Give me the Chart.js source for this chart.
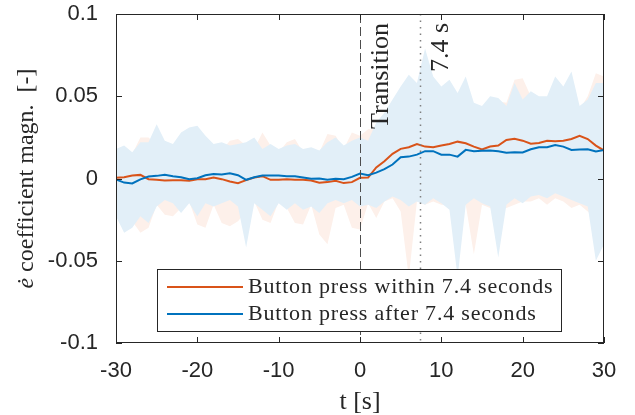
<!DOCTYPE html>
<html>
<head>
<meta charset="utf-8">
<script src="https://cdn.jsdelivr.net/npm/chart.js@4.4.1/dist/chart.umd.min.js"></script>
<style>
  html, body { margin: 0; padding: 0; background: #fff; }
  canvas { display: block; }
</style>
</head>
<body>
<canvas id="coefChart" width="635" height="415"></canvas>
<script>
// time axis (s)
const tSec = [-30,-29,-28,-27,-26,-25,-24,-23,-22,-21,-20,-19,-18,-17,-16,-15,-14,-13,-12,-11,-10,
  -9,-8,-7,-6,-5,-4,-3,-2,-1,0,1,2,3,4,5,6,7,8,9,10,
  11,12,13,14,15,16,17,18,19,20,21,22,23,24,25,26,27,28,29,30];

// mean curves
const orangeMean = [0.0004,0.0008,0.0018,0.0022,-0.0004,-0.0008,-0.0012,-0.0010,-0.0010,-0.0014,-0.0004,
  -0.0004,0.0006,-0.0004,-0.0018,-0.0028,-0.0010,0.0006,0.0014,-0.0008,-0.0008,
  -0.0004,-0.0008,-0.0008,-0.0012,-0.0026,-0.0022,-0.0014,-0.0028,-0.0022,0.0004,
  0.0006,0.0067,0.0105,0.0150,0.0180,0.0190,0.0210,0.0194,0.0190,0.0200,
  0.0210,0.0224,0.0214,0.0194,0.0176,0.0194,0.0200,0.0234,0.0242,0.0230,
  0.0212,0.0216,0.0230,0.0226,0.0230,0.0240,0.0260,0.0240,0.0200,0.0170];
const blueMean = [-0.0005,-0.0025,-0.0030,-0.0005,0.0012,0.0016,0.0022,0.0014,0.0008,-0.0005,0.0002,
  0.0020,0.0028,0.0024,0.0032,0.0020,-0.0008,0.0008,0.0018,0.0018,0.0018,
  0.0014,0.0014,0.0006,-0.0002,0.0000,-0.0008,-0.0002,-0.0004,0.0010,0.0030,
  0.0020,0.0036,0.0057,0.0085,0.0129,0.0133,0.0145,0.0166,0.0166,0.0145,
  0.0145,0.0133,0.0174,0.0166,0.0168,0.0170,0.0166,0.0156,0.0160,0.0158,
  0.0178,0.0190,0.0190,0.0204,0.0194,0.0174,0.0176,0.0178,0.0164,0.0174];

// spread bands
const orangeUpper = [0.014,0.016,0.015,0.025,0.025,0.020,0.023,0.018,0.020,0.022,0.020,
  0.019,0.018,0.017,0.023,0.024,0.020,0.018,0.028,0.020,0.016,
  0.022,0.024,0.016,0.015,0.016,0.027,0.026,0.018,0.028,0.026,
  0.030,0.030,0.036,0.045,0.052,0.048,0.050,0.060,0.055,0.050,
  0.056,0.048,0.055,0.044,0.042,0.048,0.047,0.046,0.060,0.061,
  0.050,0.046,0.048,0.056,0.052,0.058,0.042,0.050,0.064,0.062];
const orangeLower = [-0.020,-0.025,-0.026,-0.033,-0.030,-0.016,-0.022,-0.023,-0.018,-0.014,-0.028,
  -0.030,-0.016,-0.027,-0.029,-0.026,-0.020,-0.014,-0.025,-0.027,-0.014,
  -0.018,-0.027,-0.028,-0.016,-0.034,-0.040,-0.018,-0.016,-0.030,-0.031,
  -0.015,-0.024,-0.014,-0.012,-0.020,-0.060,-0.014,-0.016,-0.014,-0.016,
  -0.016,-0.020,-0.016,-0.046,-0.016,-0.018,-0.020,-0.018,-0.016,-0.014,
  -0.014,-0.012,-0.016,-0.012,-0.014,-0.018,-0.016,-0.020,-0.024,-0.022];
const blueUpper = [0.018,0.020,0.016,0.022,0.022,0.033,0.023,0.021,0.028,0.031,0.032,
  0.026,0.021,0.022,0.020,0.021,0.022,0.025,0.018,0.021,0.018,
  0.020,0.021,0.018,0.019,0.017,0.022,0.025,0.020,0.023,0.025,
  0.023,0.034,0.040,0.048,0.056,0.063,0.058,0.079,0.062,0.056,
  0.060,0.052,0.062,0.046,0.044,0.050,0.049,0.044,0.058,0.048,
  0.053,0.050,0.050,0.062,0.056,0.065,0.044,0.048,0.058,0.058];
const blueLower = [-0.023,-0.033,-0.030,-0.023,-0.027,-0.017,-0.013,-0.015,-0.021,-0.015,-0.023,
  -0.015,-0.017,-0.015,-0.013,-0.017,-0.042,-0.015,-0.019,-0.023,-0.015,
  -0.019,-0.015,-0.019,-0.017,-0.021,-0.015,-0.013,-0.015,-0.013,-0.017,
  -0.016,-0.018,-0.014,-0.011,-0.013,-0.017,-0.014,-0.016,-0.012,-0.015,
  -0.019,-0.060,-0.016,-0.012,-0.015,-0.017,-0.048,-0.016,-0.012,-0.015,
  -0.011,-0.010,-0.012,-0.009,-0.011,-0.013,-0.015,-0.017,-0.050,-0.040];

const xTicks = [-30, -20, -10, 0, 10, 20, 30];
const yTickLabels = ['-0.1', '-0.05', '0', '0.05', '0.1'];
const legendLabels = ['Button press within 7.4 seconds', 'Button press after 7.4 seconds'];
const markerTimes = [0, 7.4];
const markerLabels = ['Transition', '7.4 s'];

const orange = '#D95319';
const blue = '#0072BD';
const axisColor = '#262626';

const pts = arr => tSec.map((t, i) => ({ x: t, y: arr[i] }));

function band(data, color, fill, order) {
    return {
        data: pts(data),
        borderWidth: 0,
        pointRadius: 0,
        backgroundColor: color,
        fill: fill,
        order: order
    };
}

// box, inner ticks, markers, legend and axis titles
const decorPlugin = {
    id: 'decor',
    afterDraw(chart) {
        const ctx = chart.ctx;
        const a = chart.chartArea;
        const xs = chart.scales.x;
        const ys = chart.scales.y;
        ctx.save();

        // marker lines
        const xT = Math.round(xs.getPixelForValue(markerTimes[0])) + 0.5;
        const xD = Math.round(xs.getPixelForValue(markerTimes[1])) + 0.5;
        ctx.lineWidth = 1;
        ctx.strokeStyle = '#4d4d4d';
        ctx.setLineDash([9, 4]);
        ctx.beginPath();
        ctx.moveTo(xT, a.top);
        ctx.lineTo(xT, a.bottom);
        ctx.stroke();
        ctx.strokeStyle = '#808080';
        ctx.lineWidth = 1.5;
        ctx.setLineDash([1.5, 5]);
        ctx.beginPath();
        ctx.moveTo(xD, a.top);
        ctx.lineTo(xD, a.bottom);
        ctx.stroke();
        ctx.setLineDash([]);

        // marker texts
        ctx.fillStyle = axisColor;
        ctx.font = '26px "Liberation Serif"';
        ctx.textAlign = 'right';
        ctx.textBaseline = 'alphabetic';
        [[xT + 27, markerLabels[0]], [xD + 27, markerLabels[1]]].forEach(([px, txt]) => {
            ctx.save();
            ctx.translate(px, a.top + 9);
            ctx.rotate(-Math.PI / 2);
            ctx.fillText(txt, 0, 0);
            ctx.restore();
        });

        // legend
        const lx = a.left + 41, ly = a.top + 255, lw = 404, lh = 62;
        ctx.fillStyle = '#fff';
        ctx.fillRect(lx, ly, lw, lh);
        ctx.strokeStyle = axisColor;
        ctx.lineWidth = 1;
        ctx.strokeRect(lx + 0.5, ly + 0.5, lw, lh);
        [[orange, legendLabels[0], 18], [blue, legendLabels[1], 45]].forEach(([c, txt, dy]) => {
            ctx.strokeStyle = c;
            ctx.lineWidth = 2;
            ctx.beginPath();
            ctx.moveTo(lx + 10, ly + dy);
            ctx.lineTo(lx + 86, ly + dy);
            ctx.stroke();
            ctx.fillStyle = axisColor;
            ctx.font = '22px "Liberation Serif"';
            ctx.letterSpacing = '0.8px';
            ctx.textAlign = 'left';
            ctx.fillText(txt, lx + 91, ly + dy + 6);
            ctx.letterSpacing = '0px';
        });

        // axes box and inward ticks
        ctx.strokeStyle = axisColor;
        ctx.lineWidth = 1;
        ctx.strokeRect(a.left + 0.5, a.top + 0.5, a.right - a.left - 1, a.bottom - a.top - 1);
        ctx.beginPath();
        xs.ticks.forEach(t => {
            const px = Math.round(xs.getPixelForValue(t.value)) + 0.5;
            ctx.moveTo(px, a.bottom); ctx.lineTo(px, a.bottom - 6);
            ctx.moveTo(px, a.top); ctx.lineTo(px, a.top + 6);
        });
        ys.ticks.forEach(t => {
            const py = Math.round(ys.getPixelForValue(t.value)) + 0.5;
            ctx.moveTo(a.left, py); ctx.lineTo(a.left + 6, py);
            ctx.moveTo(a.right, py); ctx.lineTo(a.right - 6, py);
        });
        ctx.stroke();

        // axis titles
        ctx.fillStyle = axisColor;
        ctx.textAlign = 'center';
        ctx.font = '26px "Liberation Serif"';
        ctx.fillText('t [s]', (a.left + a.right) / 2, a.bottom + 66);

        ctx.save();
        ctx.translate(a.left - 83, (a.top + a.bottom) / 2);
        ctx.rotate(-Math.PI / 2);
        const italic = 'italic 24px "Liberation Serif"';
        const upright = '24px "Liberation Serif"';
        const rest = ' coefficient magn.  [-]';
        ctx.font = italic;
        const w1 = ctx.measureText('\u0117').width;
        ctx.font = upright;
        const w2 = ctx.measureText(rest).width;
        let sx = -(w1 + w2) / 2;
        ctx.textAlign = 'left';
        ctx.font = italic;
        ctx.fillText('\u0117', sx, 0);
        ctx.font = upright;
        ctx.fillText(rest, sx + w1, 0);
        ctx.restore();

        ctx.restore();
    }
};

const ctx = document.getElementById('coefChart').getContext('2d');
const coefChart = new Chart(ctx, {
    type: 'line',
    data: {
        datasets: [
            { data: pts(orangeMean), borderColor: orange, borderWidth: 2, pointRadius: 0, fill: false, order: 1 },
            { data: pts(blueMean), borderColor: blue, borderWidth: 2, pointRadius: 0, fill: false, order: 0 },
            band(blueUpper, 'rgb(226,239,248)', '+1', 2),
            band(blueLower, 'rgba(0,0,0,0)', false, 2),
            band(orangeUpper, 'rgb(253,240,234)', '+1', 3),
            band(orangeLower, 'rgba(0,0,0,0)', false, 3)
        ]
    },
    options: {
        responsive: false,
        animation: false,
        devicePixelRatio: 1,
        layout: { autoPadding: false, padding: { top: 14, right: 31, left: 0, bottom: 0 } },
        plugins: {
            legend: { display: false },
            tooltip: { enabled: false }
        },
        elements: { line: { tension: 0 } },
        scales: {
            x: {
                type: 'linear',
                min: -30,
                max: 30,
                afterBuildTicks: s => { s.ticks = xTicks.map(v => ({ value: v })); },
                afterFit: s => {
                    s.height = 72;
                    s.paddingLeft = 0;
                    s.paddingRight = 0;
                },
                grid: { display: false },
                border: { display: false },
                ticks: {
                    padding: 7,
                    maxRotation: 0,
                    color: axisColor,
                    font: { family: '"Liberation Sans", Arial, sans-serif', size: 22 },
                    callback: v => String(v)
                }
            },
            y: {
                type: 'linear',
                min: -0.1,
                max: 0.1,
                ticks: {
                    stepSize: 0.05,
                    padding: 10,
                    color: axisColor,
                    font: { family: '"Liberation Sans", Arial, sans-serif', size: 22 },
                    callback: (v, i) => yTickLabels[i]
                },
                afterFit: s => {
                    s.width = 116;
                    s.paddingTop = 0;
                    s.paddingBottom = 0;
                },
                grid: { display: false },
                border: { display: false }
            }
        }
    },
    plugins: [decorPlugin]
});
</script>
</body>
</html>
